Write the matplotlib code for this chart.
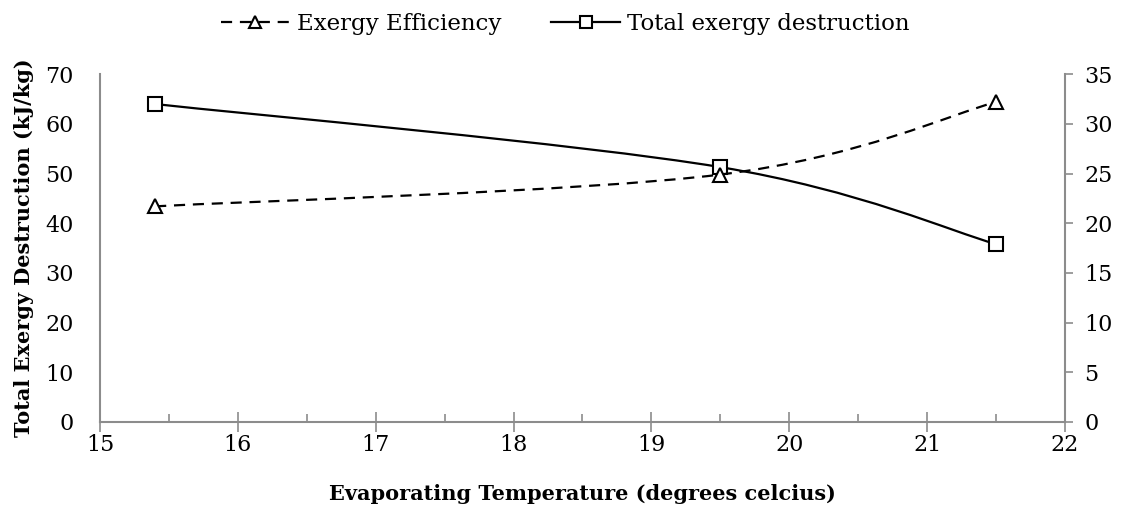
import matplotlib.pyplot as plt
from matplotlib.path import Path
from matplotlib.patches import PathPatch
from matplotlib.lines import Line2D
from matplotlib.ticker import MultipleLocator

# data
temps = [15.4, 19.5, 21.5]
exergy_eff = [21.7, 24.9, 32.2]          # right axis
total_destruction = [64.0, 51.3, 35.8]   # left axis

plt.rcParams['font.family'] = ['DejaVu Serif']
gray = '#8c8c8c'


def smooth_path(xs, ys):
    # excel-style smoothed line as cubic bezier segments
    pts = list(zip(xs, ys))
    verts = [pts[0]]
    codes = [Path.MOVETO]
    n = len(pts)
    for i in range(n - 1):
        p0 = pts[max(i - 1, 0)]
        p1 = pts[i]
        p2 = pts[i + 1]
        p3 = pts[min(i + 2, n - 1)]
        c1 = (p1[0] + (p2[0] - p0[0]) / 6, p1[1] + (p2[1] - p0[1]) / 6)
        c2 = (p2[0] - (p3[0] - p1[0]) / 6, p2[1] - (p3[1] - p1[1]) / 6)
        verts += [c1, c2, p2]
        codes += [Path.CURVE4] * 3
    return Path(verts, codes)


fig, ax = plt.subplots(figsize=(11.26, 5.12), dpi=100)
fig.subplots_adjust(left=0.0888, right=0.9458, bottom=0.176, top=0.855)
ax2 = ax.twinx()

ax.add_patch(PathPatch(smooth_path(temps, total_destruction), fill=False,
                       color='black', lw=1.6))
ax.plot(temps, total_destruction, ls='none', marker='s', ms=9.5,
        mfc='white', mec='black', mew=1.5)

ax2.add_patch(PathPatch(smooth_path(temps, exergy_eff), fill=False,
                        color='black', lw=1.6, ls=(0, (5, 3.5))))
ax2.plot(temps, exergy_eff, ls='none', marker='^', ms=9.5,
         mfc='white', mec='black', mew=1.5)

ax.set_xlim(15, 22)
ax.set_ylim(0, 70)
ax2.set_ylim(0, 35)
ax.xaxis.set_major_locator(MultipleLocator(1))
ax.xaxis.set_minor_locator(MultipleLocator(0.5))
ax.yaxis.set_major_locator(MultipleLocator(10))
ax2.yaxis.set_major_locator(MultipleLocator(5))

for a in (ax, ax2):
    for s in a.spines.values():
        s.set_visible(False)
ax.spines['left'].set_visible(True)
ax.spines['bottom'].set_visible(True)
ax2.spines['right'].set_visible(True)
for s in (ax.spines['left'], ax.spines['bottom'], ax2.spines['right']):
    s.set_color(gray)
    s.set_linewidth(1.5)

ax.tick_params(axis='y', length=0, labelsize=16, pad=19)
ax.tick_params(axis='x', which='major', direction='inout', length=14,
               color=gray, width=1.2, labelsize=16, pad=2)
ax.tick_params(axis='x', which='minor', direction='in', length=6,
               color=gray, width=1.2)
ax2.tick_params(axis='y', direction='out', length=6, color=gray,
                width=1.2, labelsize=16, pad=8)

ax.set_xlabel('Evaporating Temperature (degrees celcius)', fontsize=15,
              fontweight='bold', labelpad=20)
ax.set_ylabel('Total Exergy Destruction (kJ/kg)', fontsize=15,
              fontweight='bold', labelpad=8)

handles = [
    Line2D([], [], color='black', lw=1.6, ls=(0, (5, 3.5)), marker='^',
           ms=9, mfc='white', mec='black', mew=1.5),
    Line2D([], [], color='black', lw=1.6, marker='s', ms=9,
           mfc='white', mec='black', mew=1.5),
]
fig.legend(handles, ['Exergy Efficiency', 'Total exergy destruction'],
           loc='upper center', bbox_to_anchor=(0.502, 1.015), ncol=2,
           frameon=False, fontsize=16.5, handlelength=3.0,
           handletextpad=0.3, columnspacing=2.2)

fig.savefig('out.png', dpi=100)
